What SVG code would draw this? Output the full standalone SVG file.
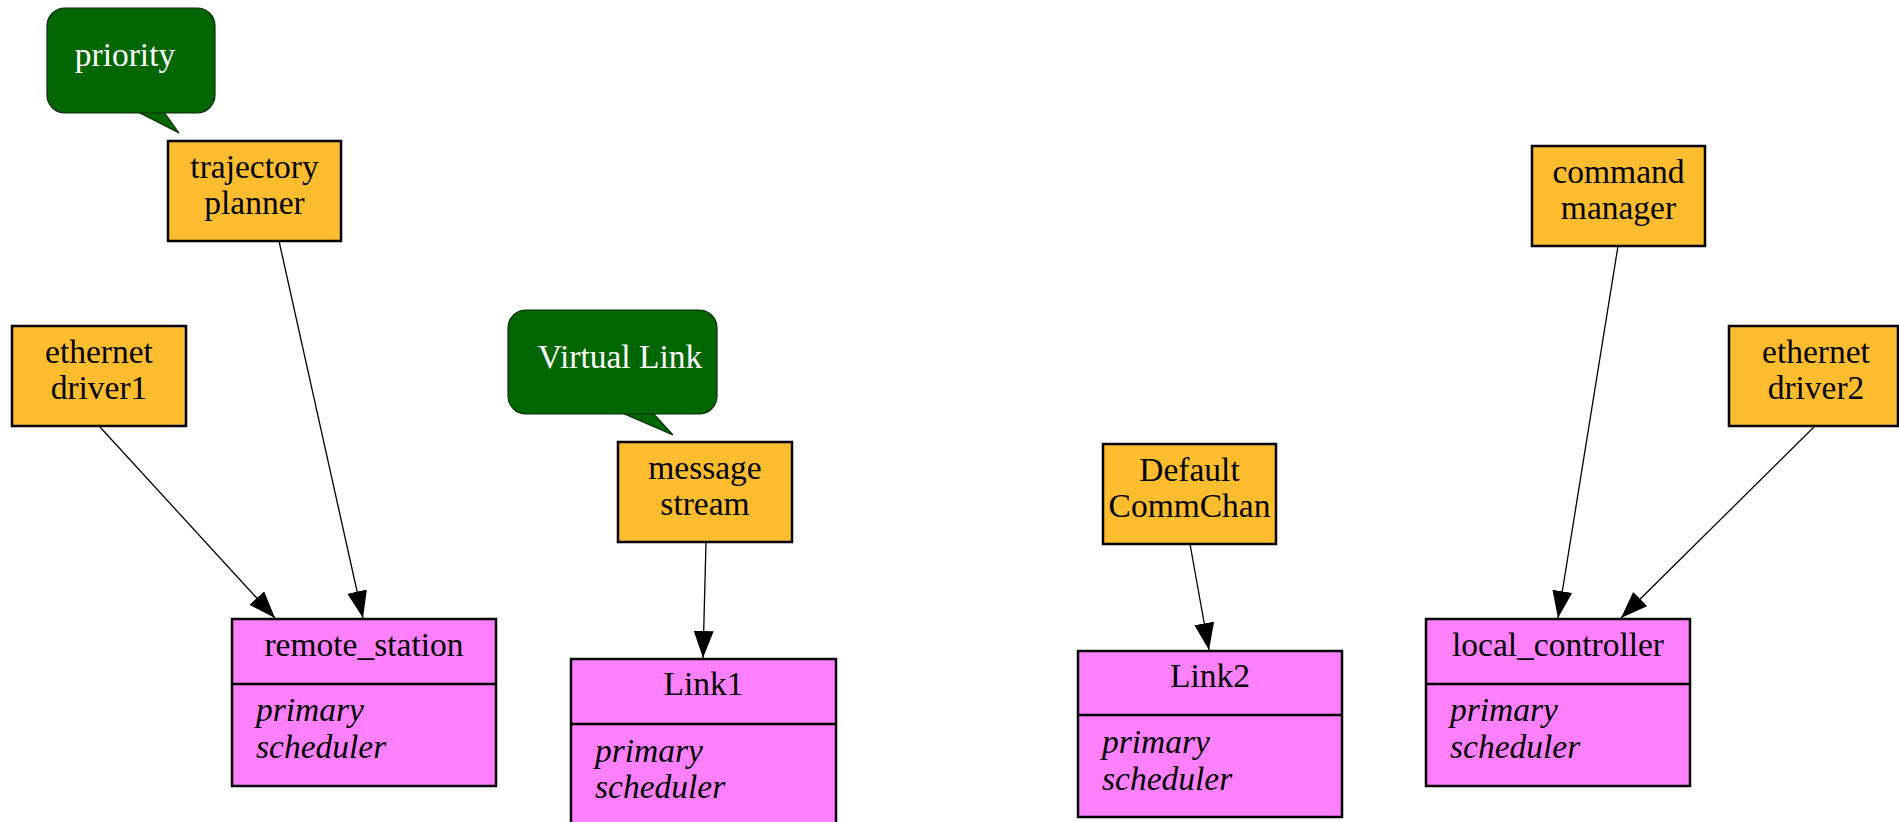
<svg xmlns="http://www.w3.org/2000/svg" width="1899" height="822" viewBox="0 0 1899 822">
<style>
.box{fill:#fdbd2f;stroke:#000;stroke-width:2.5}
.cls{fill:#ff80ff;stroke:#000;stroke-width:2.5}
.div{stroke:#000;stroke-width:2.5}
.bub{fill:#006600;stroke:#0d2a0d;stroke-width:1.2}
.t{font-family:"Liberation Serif",serif;font-size:33.5px;fill:#000;text-anchor:middle}
.w{font-family:"Liberation Serif",serif;font-size:33.5px;fill:#fff;text-anchor:middle}
.i{font-family:"Liberation Serif",serif;font-size:33.5px;font-style:italic;fill:#000}
.e{stroke:#000;stroke-width:1.3;fill:none;marker-end:url(#ah)}
</style>
<defs>
<marker id="ah" markerUnits="userSpaceOnUse" markerWidth="28" markerHeight="21" refX="27" refY="10" orient="auto">
<path d="M0,0 L27,10 L0,20 z" fill="#000"/>
</marker>
</defs>
<rect width="1899" height="822" fill="#fff"/>
<g id="priority">
<path class="bub" d="M138,112 L179,133 L164,112 Z"/>
<rect class="bub" x="47" y="8" width="168" height="105" rx="18"/>
<text class="w" x="125" y="66">priority</text>
</g>
<g id="virtual_link">
<path class="bub" d="M622,413 L673,435 L653,413 Z"/>
<rect class="bub" x="508" y="310" width="209" height="104" rx="18"/>
<text class="w" x="620" y="368">Virtual Link</text>
</g>
<g id="trajectory_planner">
<rect class="box" x="168" y="141" width="173" height="100"/>
<text class="t" x="254.5" y="178">trajectory</text>
<text class="t" x="254.5" y="214">planner</text>
</g>
<g id="ethernet_driver1">
<rect class="box" x="12" y="326" width="174" height="100"/>
<text class="t" x="99" y="363">ethernet</text>
<text class="t" x="99" y="399">driver1</text>
</g>
<g id="message_stream">
<rect class="box" x="618" y="442" width="174" height="100"/>
<text class="t" x="705" y="479">message</text>
<text class="t" x="705" y="515">stream</text>
</g>
<g id="default_commchan">
<rect class="box" x="1103" y="444" width="173" height="100"/>
<text class="t" x="1189.5" y="481">Default</text>
<text class="t" x="1189.5" y="517">CommChan</text>
</g>
<g id="command_manager">
<rect class="box" x="1532" y="146" width="173" height="100"/>
<text class="t" x="1618.5" y="183">command</text>
<text class="t" x="1618.5" y="219">manager</text>
</g>
<g id="ethernet_driver2">
<rect class="box" x="1729" y="326" width="169" height="100"/>
<text class="t" x="1816" y="363">ethernet</text>
<text class="t" x="1816" y="399">driver2</text>
</g>
<g id="remote_station">
<rect class="cls" x="232" y="619" width="264" height="167"/>
<line class="div" x1="232" y1="684" x2="496" y2="684"/>
<text class="t" x="364" y="656">remote_station</text>
<text class="i" x="256" y="721">primary</text>
<text class="i" x="256" y="758">scheduler</text>
</g>
<g id="link1">
<rect class="cls" x="571" y="659" width="265" height="167"/>
<line class="div" x1="571" y1="724" x2="836" y2="724"/>
<text class="t" x="703.5" y="695">Link1</text>
<text class="i" x="595" y="762">primary</text>
<text class="i" x="595" y="798">scheduler</text>
</g>
<g id="link2">
<rect class="cls" x="1078" y="651" width="264" height="166"/>
<line class="div" x1="1078" y1="715" x2="1342" y2="715"/>
<text class="t" x="1210" y="687">Link2</text>
<text class="i" x="1102" y="753">primary</text>
<text class="i" x="1102" y="790">scheduler</text>
</g>
<g id="local_controller">
<rect class="cls" x="1426" y="619" width="264" height="167"/>
<line class="div" x1="1426" y1="684" x2="1690" y2="684"/>
<text class="t" x="1558" y="656">local_controller</text>
<text class="i" x="1450" y="721">primary</text>
<text class="i" x="1450" y="758">scheduler</text>
</g>
<g id="connectors">
<path class="e" d="M100,427 L275,618"/>
<path class="e" d="M279,241 L363,618"/>
<path class="e" d="M706,542 L703,658"/>
<path class="e" d="M1190,544 L1209,650"/>
<path class="e" d="M1618,246 L1558,618"/>
<path class="e" d="M1815,426 L1621,618"/>
</g>
</svg>
